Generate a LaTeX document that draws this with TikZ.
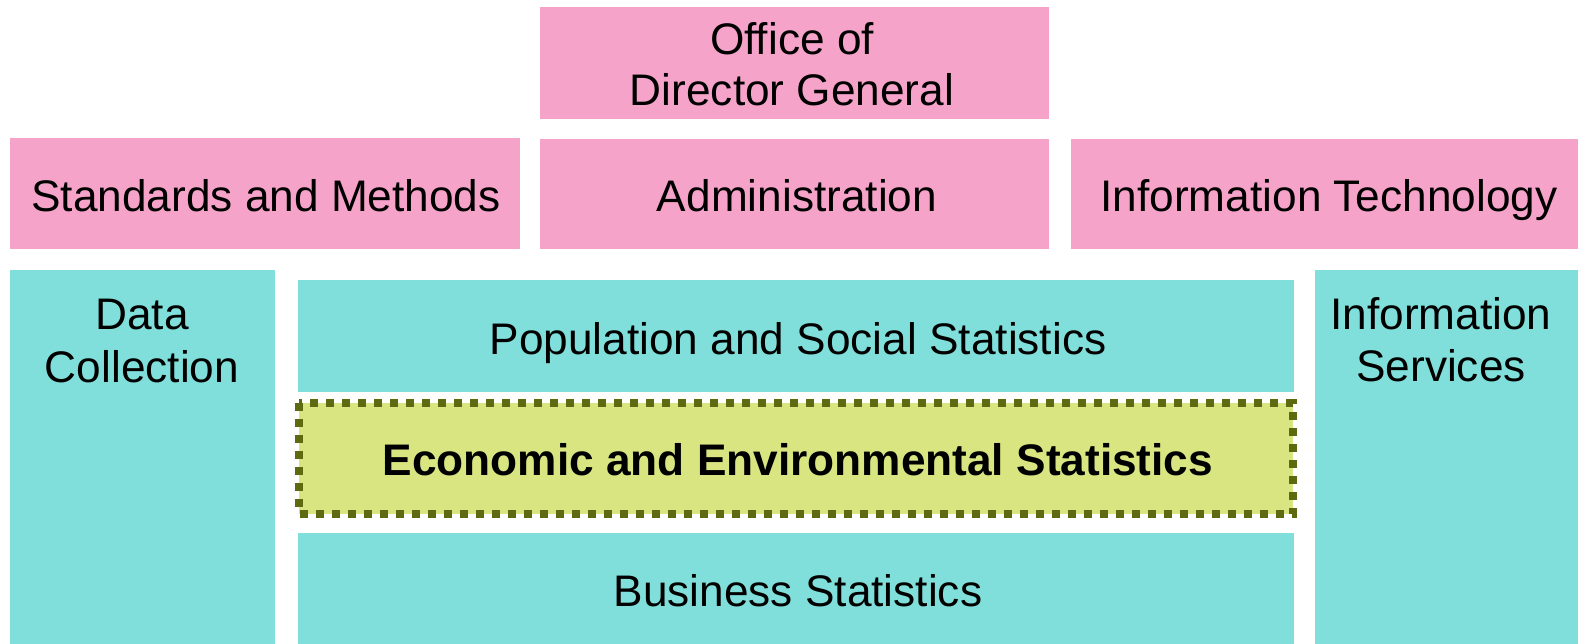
\documentclass[tikz,border=0pt]{standalone}
\usepackage{fontspec}
\setmainfont{Liberation Sans}
\definecolor{pinkbox}{RGB}{245,163,201}
\definecolor{tealbox}{RGB}{128,223,219}
\definecolor{greenbox}{RGB}{216,229,129}
\definecolor{olive}{RGB}{94,106,16}
\begin{document}
\begin{tikzpicture}[x=1pt,y=-1pt,
  pinkfill/.style={fill=pinkbox},
  tealfill/.style={fill=tealbox},
  lbl/.style={anchor=base,inner sep=0pt,font=\fontsize{44.2}{52}\selectfont,align=center}]
\useasboundingbox (0,0) rectangle (1578,644);
% boxes
\path[pinkfill] (540,7) rectangle (1049,119);
\path[pinkfill] (10,138) rectangle (520,249);
\path[pinkfill] (540,139) rectangle (1049,249);
\path[pinkfill] (1071,139) rectangle (1578,249);
\path[tealfill] (10,270) rectangle (275,644);
\path[tealfill] (298,280) rectangle (1294,392);
\path[tealfill] (298,533) rectangle (1294,644);
\path[tealfill] (1315,270) rectangle (1578,644);
\path[fill=greenbox,draw=olive,line width=8pt,dash pattern=on 8pt off 8pt] (299,402.5) rectangle (1293,514);
% labels
\node[lbl] (odg1) at (792,55) {Office of};
\node[lbl] (odg2) at (792,106) {Director General};
\node[lbl] (sm) at (266,212) {Standards and Methods};
\node[lbl] (adm) at (797,212) {Administration};
\node[lbl] (it) at (1329,212) {Information Technology};
\node[lbl] (dc1) at (142,329) {Data};
\node[lbl] (dc2) at (142,382) {Collection};
\node[lbl] (is1) at (1441,329) {Information};
\node[lbl] (is2) at (1441,381) {Services};
\node[lbl] (pss) at (798,354) {Population and Social Statistics};
\node[lbl,font=\fontsize{44.2}{52}\selectfont\bfseries] (ees) at (798,475) {Economic and Environmental Statistics};
\node[lbl] (bs) at (798,606) {Business Statistics};
\end{tikzpicture}
\end{document}
